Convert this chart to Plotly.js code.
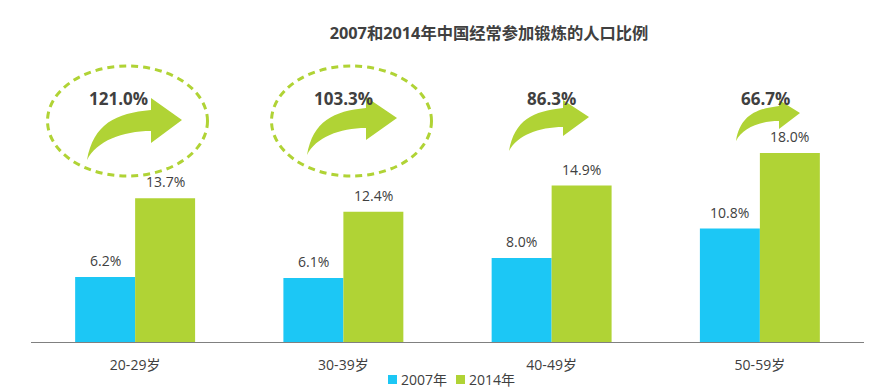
<!DOCTYPE html>
<html><head><meta charset="utf-8">
<script src="https://cdn.plot.ly/plotly-3.0.1.min.js"></script>
<style>html,body{margin:0;padding:0;background:#fff}</style>
</head><body><div id="c" style="width:885px;height:390px"></div>
<script>
const categories = ['20-29岁','30-39岁','40-49岁','50-59岁'];
const seriesNames = ['2007年','2014年'];
const values2007 = [6.2,6.1,8.0,10.8];
const values2014 = [13.7,12.4,14.9,18.0];
const growthLabels = ['121.0%','103.3%','86.3%','66.7%'];
const growthLabelX = [118,343,551,765];
const growthLabelY = [98.5,98,98,98];
// arrow decoration geometry in pixels: tail x/y, tip x/y, head base x, head top, head bottom, shaft top, shaft bottom
const arrows = [
 [87,160,182,120,151,98,143,110,131],
 [307,155,397,118,366,97,140,108,128],
 [509,151,589,117,563,100,136,108,127],
 [736,141,800,113,779,100,129,106,121]
];
const ellipses = [[127.5,121,80,55],[351.5,121,80,55]];
const legendSwatchX = [388,456];
const legendTextX = [400,468];
const W=885,H=390,mL=31,mR=21,mT=12,mB=48;
const px=x=>(x-mL)/(W-mL-mR), py=y=>1-(y-mT)/(H-mT-mB);
const P=(x,y)=>px(x).toFixed(5)+','+py(y).toFixed(5);
const GREEN='#b0d335', BLUE='#1cc7f5', TXT='#404040';
const FONT='"Open Sans","Noto Sans CJK SC",sans-serif';
const shapes=[];
arrows.forEach(a=>{
 const [tx,ty,hx,hy,bx,ht,hb,st,sb]=a;
 const w=bx-tx;
 const path='M'+P(tx,ty)
  +' C'+P(tx+w*0.10,ty-(ty-st)*0.72)+' '+P(tx+w*0.45,st+3)+' '+P(bx,st)
  +' L'+P(bx,ht)+' L'+P(hx,hy)+' L'+P(bx,hb)+' L'+P(bx,sb)
  +' C'+P(tx+w*0.55,sb)+' '+P(tx+w*0.15,sb+(ty-sb)*0.35)+' '+P(tx,ty)+' Z';
 shapes.push({type:'path',xref:'paper',yref:'paper',path,fillcolor:GREEN,line:{width:0},layer:'below'});
});
ellipses.forEach(e=>{
 shapes.push({type:'circle',xref:'paper',yref:'paper',x0:px(e[0]-e[2]),x1:px(e[0]+e[2]),y0:py(e[1]+e[3]),y1:py(e[1]-e[3]),
  line:{color:GREEN,width:3,dash:'7px,5px'},layer:'below'});
});
const annotations=[];
const off=0.144;
categories.forEach((c,i)=>{
 annotations.push({x:i-off,y:values2007[i],xref:'x',yref:'y',text:values2007[i].toFixed(1)+'%',showarrow:false,yanchor:'bottom',yshift:5,font:{size:14,color:TXT,family:FONT}});
 annotations.push({x:i+off,y:values2014[i],xref:'x',yref:'y',text:values2014[i].toFixed(1)+'%',showarrow:false,yanchor:'bottom',yshift:5,font:{size:14,color:TXT,family:FONT}});
 annotations.push({x:px(growthLabelX[i]),y:py(growthLabelY[i]),xref:'paper',yref:'paper',text:'<b>'+growthLabels[i]+'</b>',showarrow:false,xanchor:'center',yanchor:'middle',font:{size:17,color:TXT,family:FONT}});
});
seriesNames.forEach((n,i)=>{
 shapes.push({type:'rect',xref:'paper',yref:'paper',x0:px(legendSwatchX[i]),x1:px(legendSwatchX[i]+9),y0:py(384),y1:py(375),fillcolor:[BLUE,GREEN][i],line:{width:0}});
 annotations.push({x:px(legendTextX[i]),y:py(379),xref:'paper',yref:'paper',text:n,showarrow:false,xanchor:'left',yanchor:'middle',xshift:-1,font:{size:14,color:TXT,family:FONT}});
});
Plotly.newPlot('c',[
 {type:'bar',name:seriesNames[0],x:categories.map((c,i)=>i),y:values2007,marker:{color:BLUE},hoverinfo:'y'},
 {type:'bar',name:seriesNames[1],x:categories.map((c,i)=>i),y:values2014,marker:{color:GREEN},hoverinfo:'y'}
],{
 width:W,height:H,paper_bgcolor:'#fff',plot_bgcolor:'#fff',
 margin:{l:mL,r:mR,t:mT,b:mB,pad:0,autoexpand:false},
 barmode:'group',bargap:0.424,bargroupgap:0,
 title:{text:'<b>2007和2014年中国经常参加锻炼的人口比例</b>',x:489/W,xanchor:'center',y:1-33/H,yanchor:'middle',font:{size:16.3,color:TXT,family:FONT}},
 xaxis:{tickmode:'array',tickvals:[0,1,2,3],ticktext:categories,range:[-0.5,3.5],showgrid:false,zeroline:false,showline:true,linecolor:'#808080',linewidth:1,ticks:'',ticklabelstandoff:10,automargin:false,tickfont:{size:14,color:TXT,family:FONT}},
 yaxis:{range:[0,330/10.5],visible:false,fixedrange:true,automargin:false},
 showlegend:false,
 shapes,annotations
},{displayModeBar:false,staticPlot:true});
</script></body></html>
